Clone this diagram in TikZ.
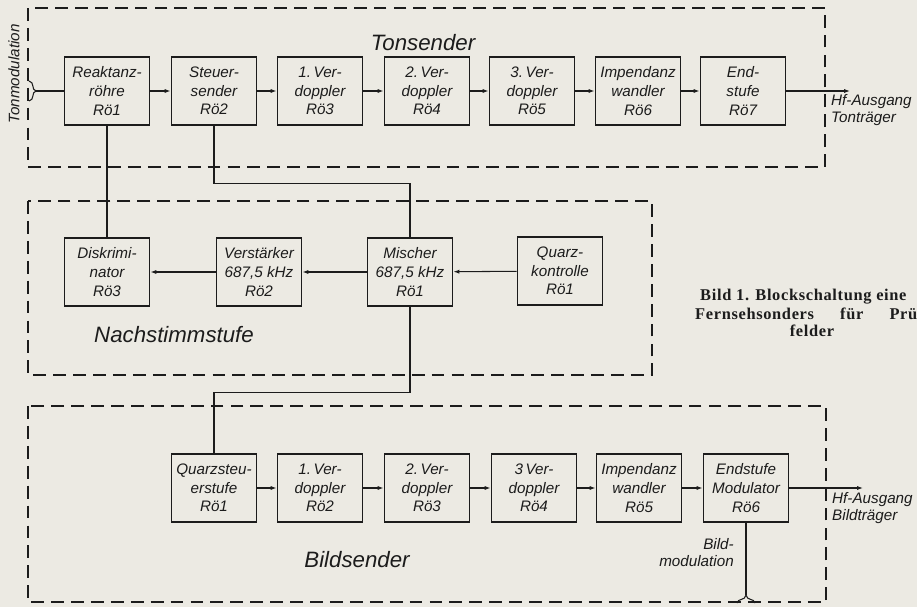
\documentclass[tikz,border=0pt]{standalone}
\usepackage{fontspec}
\setmainfont{Liberation Sans}
\newfontfamily\capfont[LetterSpace=4]{Liberation Serif}
\usetikzlibrary{positioning,arrows.meta}
\definecolor{paper}{RGB}{236,234,227}
\definecolor{ink}{RGB}{28,28,28}

\begin{document}
\begin{tikzpicture}[x=0.03cm,y=-0.03cm,
	stufe/.style={draw=ink,line width=1.6pt,minimum width=2.55cm,minimum height=2.05cm,inner sep=1pt,align=center,text=ink,font=\fontsize{13}{16}\selectfont\itshape},
	rahmen/.style={draw=ink,line width=1.6pt,dash pattern=on 11pt off 6pt},
	leitung/.style={draw=ink,line width=0.9pt},
	pfeil/.style={leitung,-{Latex[length=5pt,width=3.5pt]}},
	titel/.style={text=ink,font=\fontsize{19}{22}\selectfont\itshape},
	beschrift/.style={text=ink,inner sep=0pt,font=\fontsize{13}{15}\selectfont\itshape},
	unterschrift/.style={text=ink,inner sep=0pt,font=\capfont\bfseries\fontsize{14}{16}\selectfont}]
	\useasboundingbox (0,0) rectangle (917,607);
	\fill[paper] (0,0) rectangle (917,607);
	
	% Gruppen
	\draw[rahmen] (28,8) rectangle (825,167);
	\draw[rahmen] (28,201) rectangle (652,375);
	\draw[rahmen] (28,406) rectangle (826,602);
	
	\node[titel] (ton) at (423,43) {Tonsender};
	\node[titel] (nach) at (174,335) {Nachstimmstufe};
	\node[titel] (bild) at (357,560) {Bildsender};
	
	% Tonsender
	\node[stufe] (r1) at (107,91) {Reaktanz-\\röhre\\Rö1};
	\node[stufe] (s2) at (214,91) {Steuer-\\sender\\Rö2};
	\node[stufe] (v3) at (320,91) {1.\,Ver-\\doppler\\Rö3};
	\node[stufe] (v4) at (427,91) {2.\,Ver-\\doppler\\Rö4};
	\node[stufe] (v5) at (532,91) {3.\,Ver-\\doppler\\Rö5};
	\node[stufe] (w6) at (638,91) {Impendanz\\wandler\\Rö6};
	\node[stufe] (e7) at (743,91) {End-\\stufe\\Rö7};
	\foreach \a/\b in {r1/s2,s2/v3,v3/v4,v4/v5,v5/w6,w6/e7}
		\draw[pfeil] (\a) -- (\b);
	
	% Nachstimmstufe
	\node[stufe] (d3) at (107,272) {Diskrimi-\\nator\\Rö3};
	\node[stufe] (n2) at (259,272) {Verstärker\\687,5 kHz\\Rö2};
	\node[stufe] (m1) at (410,272) {Mischer\\687,5 kHz\\Rö1};
	\node[stufe] (q1) at (560,271) {Quarz-\\kontrolle\\Rö1};
	\foreach \a/\b in {q1/m1,m1/n2,n2/d3}
		\draw[pfeil] (\a) -- (\b);
	
	% Bildsender
	\node[stufe] (b1) at (214,488) {Quarzsteu-\\erstufe\\Rö1};
	\node[stufe] (b2) at (320,488) {1.\,Ver-\\doppler\\Rö2};
	\node[stufe] (b3) at (427,488) {2.\,Ver-\\doppler\\Rö3};
	\node[stufe] (b4) at (534,488) {3\,Ver-\\doppler\\Rö4};
	\node[stufe] (b5) at (639,488) {Impendanz\\wandler\\Rö5};
	\node[stufe] (b6) at (746,488) {Endstufe\\Modulator\\Rö6};
	\foreach \a/\b in {b1/b2,b2/b3,b3/b4,b4/b5,b5/b6}
		\draw[pfeil] (\a) -- (\b);
	
	% Verbindungen
	\draw[leitung] (r1) -- (d3);
	\draw[leitung] (s2.south) -- ++(0,57) -| (m1.north);
	\draw[leitung] (m1.south) -- ++(0,85) -| (b1.north);
	
	% Ein- und Ausgaenge
	\coordinate (tm) at (36,91);
	\draw[leitung] (29,81) .. controls (35,82) and (31,90) .. (tm) .. controls (31,92) and (35,100) .. (29,101);
	\draw[leitung] (tm) -- (r1);
	\node[beschrift,rotate=90] (tmod) at (14,74) {Tonmodulation};
	
	\coordinate (ta) at (850,91);
	\draw[pfeil] (e7) -- (ta);
	\node[beschrift,anchor=north west,align=left] (tat) at (831,94) {Hf-Ausgang\\Tonträger};
	
	\coordinate (ba) at (863,488);
	\draw[pfeil] (b6) -- (ba);
	\node[beschrift,anchor=north west,align=left] (bat) at (832,492) {Hf-Ausgang\\Bildträger};
	
	\coordinate (bm) at (746,595);
	\draw[leitung] (737,603) .. controls (738,598) and (745,601) .. (bm) .. controls (747,601) and (754,598) .. (755,603);
	\draw[leitung] (bm) -- (b6);
	\node[beschrift,anchor=north east,align=right] (bmt) at (734,538) {Bild-\\modulation};
	
	% Bildunterschrift
	\node[unterschrift,anchor=west] (u1) at (700,297) {Bild 1. Blockschaltung eine};
	\node[unterschrift,anchor=west] (u2) at (695,314) {\hbox to 6.66cm{Fernsehsonders\hfill für\hfill Prü}};
	\node[unterschrift] (u3) at (812,331) {felder};
\end{tikzpicture}
\end{document}
